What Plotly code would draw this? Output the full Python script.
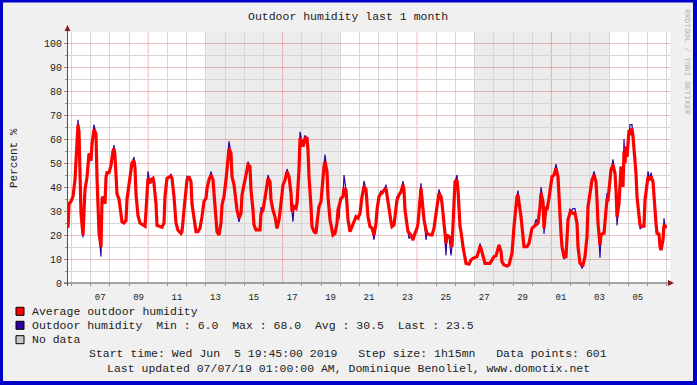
import plotly.graph_objects as go
from datetime import datetime, timedelta

# ---------------- data ----------------
START = datetime(2019, 6, 5, 19, 45)
STEP_MINUTES = 75  # 1h15mn
N_STEPS_RANGE = 602

# average outdoor humidity: sample index -> value (%)
avg_idx = [0, 1, 3, 5, 7, 8, 9, 10, 11, 12, 13, 15, 16, 17, 19, 20, 21, 23, 24, 26, 28, 29, 30, 31, 33, 34, 35, 37, 38, 39,
           41, 43, 45, 46, 47, 48, 49, 51, 53, 54, 56, 58, 59, 61, 63, 64, 66, 67, 68, 70, 72, 74, 77, 78, 79, 80, 82, 83, 85, 86,
           88, 89, 92, 94, 96, 97, 99, 101, 103, 104, 106, 108, 110, 113, 114, 116, 118, 119, 121, 123, 124, 127, 128, 130, 132, 134, 136, 138, 139, 141,
           143, 145, 146, 148, 149, 151, 153, 154, 156, 158, 159, 161, 163, 164, 166, 168, 169, 171, 173, 174, 176, 178, 180, 182, 183, 185, 186, 188, 190, 192,
           193, 195, 198, 200, 202, 203, 205, 207, 209, 211, 213, 215, 217, 219, 221, 223, 224, 226, 228, 229, 231, 232, 234, 235, 237, 239, 240, 241, 243, 244,
           246, 248, 249, 251, 253, 254, 256, 257, 259, 260, 262, 264, 265, 267, 269, 270, 272, 273, 275, 276, 278, 279, 280, 282, 284, 286, 288, 290, 292, 294,
           296, 298, 299, 300, 302, 304, 306, 308, 309, 311, 313, 314, 316, 318, 319, 321, 323, 324, 326, 328, 329, 331, 333, 335, 336, 337, 339, 340, 343, 345,
           347, 349, 350, 352, 353, 354, 356, 358, 359, 362, 364, 366, 368, 369, 371, 373, 374, 376, 378, 379, 381, 383, 384, 385, 386, 387, 389, 390, 392, 393,
           395, 396, 398, 401, 403, 405, 408, 409, 411, 412, 413, 415, 417, 419, 422, 424, 426, 428, 429, 431, 433, 434, 436, 439, 441, 443, 444, 446, 448, 449,
           450, 452, 453, 454, 456, 459, 461, 463, 464, 466, 468, 470, 472, 473, 475, 476, 478, 479, 481, 483, 484, 486, 488, 490, 491, 493, 494, 496, 498, 499,
           500, 502, 503, 505, 507, 509, 510, 512, 514, 515, 517, 519, 520, 522, 524, 526, 528, 529, 530, 532, 533, 535, 536, 538, 539, 540, 542, 543, 545, 547,
           548, 549, 551, 552, 553, 555, 556, 557, 558, 559, 561, 562, 564, 565, 567, 568, 569, 571, 572, 574, 576, 577, 579, 580, 582, 583, 585, 586, 588, 589,
           591, 592, 593, 595, 596, 597, 599]
avg_val = [23, 33, 34, 36, 43, 51, 64, 66, 63, 44, 29, 20, 30, 39, 44, 48, 54, 51, 58, 64, 62, 44, 28, 21, 15, 35, 36, 33, 44, 46,
           46, 49, 55, 56, 53, 44, 37, 35, 29, 25.5, 25, 26, 35, 41.5, 46, 50, 51, 48, 37, 28, 25, 24.6, 23.7, 30, 38, 43.6, 41.5, 43, 43.6, 41.5,
           33, 24, 23.5, 23.2, 25, 36, 43.6, 44, 44.5, 43.6, 36, 25, 22, 20.7, 21.4, 30.4, 37.4, 43, 44.3, 42.2, 33, 25, 21.4, 21.4, 22.8, 27.6, 34, 35.3, 39.4, 43,
           45, 43, 37.4, 27.6, 21.4, 20, 25, 32.5, 36, 43, 48.5, 56, 54, 44.3, 41, 32.5, 30.4, 27, 29, 36.7, 41.5, 45.7, 49.2, 48.5, 38.7, 30.4, 24.2, 22.1, 22.1, 22.1,
           29, 30.4, 38, 43.6, 42.2, 34.6, 30.4, 27.6, 22.8, 26.3, 33.2, 40.9, 42.9, 46.4, 44.3, 37.4, 29.7, 31.8, 31.1, 33.2, 47.1, 60.3, 58.9, 56.8, 60.3, 60.3, 55.4, 44.3, 31.8, 23.5,
           21.4, 20.7, 24.9, 31.8, 33.9, 40.1, 48.5, 50.6, 46.4, 36, 26.3, 22.1, 20, 20.7, 24.9, 30.4, 33.2, 35.3, 36, 39.4, 38.7, 33.2, 26.3, 21.4, 23.5, 26.3, 27.6, 27, 29, 36,
           40.1, 39, 33, 27.6, 23.5, 22.8, 20, 24.9, 30.4, 36, 37.4, 37.4, 38.7, 39.4, 36.7, 30.4, 25.5, 23.5, 24.2, 31.1, 34.6, 36.7, 38.1, 40.9, 38.7, 30.4, 22.8, 21.4, 20, 17.9,
           20.7, 22.8, 24.9, 37.4, 39.4, 35.3, 26.3, 22.1, 20.7, 20, 20, 22.8, 27.6, 31.8, 37.4, 36, 33.2, 24.2, 16.5, 20, 19.3, 18.6, 15.1, 23.5, 33.2, 42.2, 42.9, 38.7, 23.5, 21.4,
           15.1, 12.4, 8.2, 7.9, 9.6, 10.3, 11, 11, 13.7, 15.4, 14.4, 11, 8.2, 8.2, 8.2, 9.6, 11, 11.3, 13.1, 15.8, 13.1, 8.9, 7.5, 7.1, 7.5, 10.3, 12.4, 23.5, 32.5, 36,
           36.7, 31.8, 27.6, 23.5, 15.1, 15.1, 16.5, 20.7, 22.8, 23.5, 24.2, 24.9, 31.8, 37.4, 33.9, 22.8, 31.8, 30.4, 35.3, 42.9, 44.3, 45, 47.8, 44.3, 34.6, 20.7, 15.1, 11, 11, 19.3,
           26.3, 29, 29.7, 29, 29, 24.9, 15.1, 8.2, 7.5, 7.5, 11, 19.3, 31.8, 38.7, 42.9, 45, 42.2, 34.6, 24.9, 15.8, 20, 20.7, 20.4, 30.4, 34.6, 34.6, 42.9, 47.1, 49.2, 45.7,
           38.7, 27.6, 33.2, 44.3, 48.5, 40.1, 54.7, 49.9, 56.8, 52.6, 63.7, 61.7, 64.4, 61, 52.6, 45.7, 36, 29, 24.2, 23.5, 23.7, 34.6, 40.1, 44.3, 42.9, 44.3, 42.2, 34.6, 24.9, 20.7,
           20.4, 15.1, 13.7, 17.9, 24.2, 23.5, 23.5]

# raw outdoor humidity: readings that stick out of the average line
raw_idx = [10, 15, 26, 33, 46, 66, 80, 103, 119, 143, 161, 171, 180, 193, 200, 219, 225, 232, 237, 257,
           271, 276, 296, 306, 313, 318, 329, 335, 341, 353, 358, 371, 378, 383, 389, 412, 431, 444, 450, 468,
           473, 476, 488, 496, 502, 505, 507, 514, 526, 532, 539, 545, 549, 556, 562, 564, 572, 580, 583, 596]
raw_val = [68, 19, 66, 11, 57.5, 52.5, 46.5, 45.5, 44.5, 46.5, 59, 25.5, 50.5, 31.5, 45, 47.5, 25.5, 63, 61.5, 53.5,
           26.5, 45, 42.5, 18, 38.5, 41, 36, 42.5, 18.5, 41.5, 18, 39, 11.5, 11.5, 45, 16.5, 16, 14, 38.5, 26.5,
           40, 20.5, 49.5, 10, 31, 31, 31, 6, 46.5, 10.5, 37.5, 51.5, 24, 60, 66, 66, 22.5, 46.5, 46, 27]

tick_days = ["2019-06-07", "2019-06-09", "2019-06-11", "2019-06-13", "2019-06-15", "2019-06-17", "2019-06-19",
             "2019-06-21", "2019-06-23", "2019-06-25", "2019-06-27", "2019-06-29", "2019-07-01", "2019-07-03", "2019-07-05"]
tick_text = ["07", "09", "11", "13", "15", "17", "19", "21", "23", "25", "27", "29", "01", "03", "05"]
week_lines = ["2019-06-10", "2019-06-17", "2019-06-24", "2019-07-01"]
shaded_weeks = [("2019-06-13", "2019-06-20"), ("2019-06-27", "2019-07-04")]

TITLE = "Outdoor humidity last 1 month"
legend_rows = [
    ("#ff0000", "Average outdoor humidity"),
    ("#3300a0", "Outdoor humidity  Min : 6.0  Max : 68.0  Avg : 30.5  Last : 23.5"),
    ("#c8c8c8", "No data"),
]
footer1 = "Start time: Wed Jun  5 19:45:00 2019   Step size: 1h15mn   Data points: 601"
footer2 = "Last updated 07/07/19 01:00:00 AM, Dominique Benoliel, www.domotix.net"

# ---------------- build ----------------
def t(i):
    return START + timedelta(minutes=STEP_MINUTES * i)

avg_x = [t(i) for i in avg_idx]

raw_map = dict(zip(avg_idx, avg_val))
for i, v in zip(raw_idx, raw_val):
    raw_map[i] = v
raw_keys = sorted(raw_map)
raw_x = [t(i) for i in raw_keys]
raw_y = [raw_map[i] for i in raw_keys]

# daily grid positions (midnights), except the weekly (red) ones
first_day = datetime(2019, 6, 6)
day_grid = []
d = first_day
while d < t(N_STEPS_RANGE):
    if d.strftime("%Y-%m-%d") not in week_lines:
        day_grid.append(d)
    d += timedelta(days=1)

W, H = 697, 385
L, R, T, B = 68, 670, 32, 283
YMAX = (B - T) / 2.4

def px(x):
    return (x - L) / (R - L)

def py(y):
    return (B - y) / (B - T)

def nb(s):
    return s.replace(" ", "\u00a0")

MONO = "Liberation Mono, Courier New, monospace"
RED_GRID = "rgba(220,60,60,0.35)"
GREY_GRID = "#d6d6d6"

fig = go.Figure()
fig.add_trace(go.Scatter(x=raw_x, y=raw_y, mode="lines", line=dict(color="#3300a0", width=1.2),
                         name="Outdoor humidity", hoverinfo="skip"))
fig.add_trace(go.Scatter(x=avg_x, y=avg_val, mode="lines", line=dict(color="#ff0000", width=3.2),
                         name="Average outdoor humidity", hoverinfo="skip"))

shapes = []
for a, b in shaded_weeks:
    shapes.append(dict(type="rect", xref="x", yref="paper", x0=a, x1=b, y0=0, y1=1,
                       fillcolor="#ececec", line=dict(width=0), layer="below"))
for wl in week_lines:
    shapes.append(dict(type="line", xref="x", yref="paper", x0=wl, x1=wl, y0=0, y1=1,
                       line=dict(color=RED_GRID, width=1), layer="below"))

# axis lines with arrows
shapes.append(dict(type="line", xref="paper", yref="paper", x0=px(67.5), x1=px(67.5), y0=py(286), y1=py(30),
                   line=dict(color="#505050", width=1)))
shapes.append(dict(type="line", xref="paper", yref="paper", x0=px(64), x1=px(671), y0=py(283), y1=py(283),
                   line=dict(color="#505050", width=1)))
shapes.append(dict(type="path", xref="paper", yref="paper",
                   path=f"M {px(64.5)},{py(31)} L {px(70.5)},{py(31)} L {px(67.5)},{py(25)} Z",
                   fillcolor="#8b1a1a", line=dict(width=0)))
shapes.append(dict(type="path", xref="paper", yref="paper",
                   path=f"M {px(668)},{py(280)} L {px(668)},{py(286)} L {px(674)},{py(283)} Z",
                   fillcolor="#8b1a1a", line=dict(width=0)))

# legend boxes
row_y = [311.3, 325.3, 339.7]
for (col, _), yc in zip(legend_rows, row_y):
    shapes.append(dict(type="rect", xref="paper", yref="paper", x0=px(16), x1=px(24), y0=py(yc + 4), y1=py(yc - 4),
                       fillcolor=col, line=dict(color="#000000", width=1)))

# blue frame
BLUE = "#0000c8"
for x0, x1, y0, y1 in [(0, 3, 0, H), (693, W, 0, H), (0, W, 0, 2.5), (0, W, 381, H)]:
    shapes.append(dict(type="rect", xref="paper", yref="paper", x0=px(x0), x1=px(x1), y0=py(y1), y1=py(y0),
                       fillcolor=BLUE, line=dict(width=0)))

annotations = [
    dict(text=nb(TITLE), x=px(348), y=py(16.5), xref="paper", yref="paper", showarrow=False,
         xanchor="center", yanchor="middle", font=dict(family=MONO, size=11.5, color="#222")),
    dict(text=nb("Percent %"), x=px(14), y=py(158), xref="paper", yref="paper", showarrow=False,
         textangle=-90, xanchor="center", yanchor="middle", font=dict(family=MONO, size=11, color="#222")),
    dict(text=nb("RRDTOOL / TOBI OETIKER"), x=px(688), y=py(62), xref="paper", yref="paper", showarrow=False,
         textangle=90, xanchor="center", yanchor="middle", font=dict(family=MONO, size=8, color="#b0b0b0")),
    dict(text=nb(footer1), x=px(348), y=py(353.5), xref="paper", yref="paper", showarrow=False,
         xanchor="center", yanchor="middle", font=dict(family=MONO, size=11.5, color="#222")),
    dict(text=nb(footer2), x=px(348), y=py(368.5), xref="paper", yref="paper", showarrow=False,
         xanchor="center", yanchor="middle", font=dict(family=MONO, size=11.5, color="#222")),
]
for (_, label), yc in zip(legend_rows, row_y):
    annotations.append(dict(text=nb(label), x=px(29.5), y=py(yc), xref="paper", yref="paper", showarrow=False,
                            xanchor="left", yanchor="middle", font=dict(family=MONO, size=11.5, color="#222")))

fig.update_layout(
    width=W, height=H,
    margin=dict(l=L, r=W - R, t=T, b=H - B, pad=0),
    paper_bgcolor="#f0f0f0", plot_bgcolor="#ffffff",
    showlegend=False,
    shapes=shapes, annotations=annotations,
    xaxis=dict(
        type="date", range=[t(0), t(N_STEPS_RANGE)],
        tickmode="array", tickvals=[dd + " 12:00" for dd in tick_days], ticktext=tick_text,
        ticks="outside", ticklen=5, tickcolor="rgba(0,0,0,0)",
        tickfont=dict(family=MONO, size=9, color="#222"),
        showgrid=False, zeroline=False, showline=False,
        minor=dict(tickmode="array", tickvals=day_grid, showgrid=True,
                   gridcolor=GREY_GRID, gridwidth=1, ticks="outside", ticklen=2, tickcolor="#909090"),
        fixedrange=True,
    ),
    yaxis=dict(
        range=[0, YMAX], tickmode="linear", tick0=0, dtick=10,
        ticks="outside", ticklen=3, tickcolor="#909090",
        tickfont=dict(family=MONO, size=10, color="#222"),
        showgrid=True, gridcolor=RED_GRID, gridwidth=1, zeroline=False, showline=False,
        minor=dict(tickmode="linear", tick0=0, dtick=5, showgrid=True, gridcolor=GREY_GRID,
                   ticks="outside", ticklen=2, tickcolor="#909090"),
        fixedrange=True,
    ),
)

fig.write_html("out.html", config={"displayModeBar": False},
               post_script="document.body.style.margin='0';document.body.style.overflow='hidden';")
